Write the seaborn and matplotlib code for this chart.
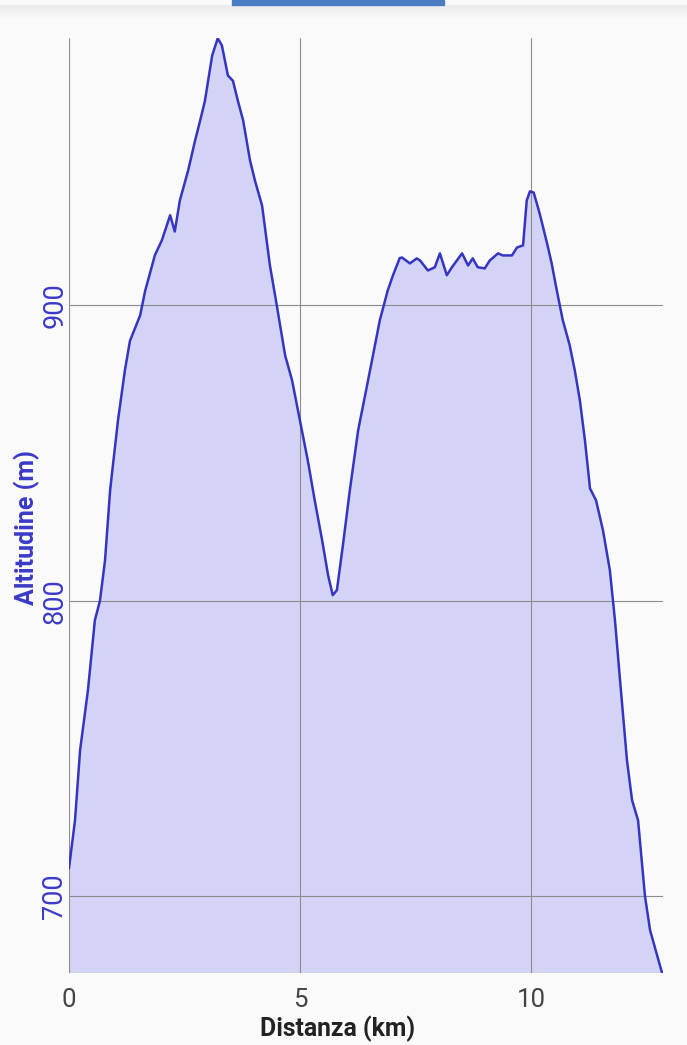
import numpy as np
import pandas as pd
import matplotlib
matplotlib.use("Agg")
import matplotlib.pyplot as plt
import seaborn as sns
from matplotlib.patches import Rectangle

# Profilo altimetrico: distanza (km) e altitudine (m)
distanza = [0.00, 0.13, 0.24, 0.41, 0.56, 0.67, 0.78, 0.89, 1.06, 1.21, 1.32, 1.54,
            1.65, 1.86, 2.01, 2.19, 2.29, 2.40, 2.58, 2.73, 2.84, 2.94, 3.10, 3.22,
            3.31, 3.44, 3.55, 3.66, 3.77, 3.92, 4.03, 4.18, 4.35, 4.48, 4.68, 4.83,
            5.00, 5.17, 5.32, 5.48, 5.61, 5.71, 5.80, 5.93, 6.08, 6.26, 6.41, 6.56,
            6.73, 6.90, 7.01, 7.16, 7.21, 7.38, 7.53, 7.60, 7.77, 7.92, 8.03, 8.18,
            8.29, 8.51, 8.64, 8.74, 8.85, 9.00, 9.11, 9.29, 9.39, 9.59, 9.70, 9.83,
            9.91, 9.98, 10.06, 10.19, 10.35, 10.45, 10.56, 10.69, 10.84, 10.95, 11.06,
            11.17, 11.28, 11.41, 11.56, 11.71, 11.82, 11.93, 12.08, 12.19, 12.32,
            12.47, 12.58, 12.84]
altitudine = [709.5, 725.7, 749.4, 769.7, 793.4, 800.0, 813.7, 837.4, 861.0, 878.0,
              888.0, 896.6, 905.0, 917.0, 922.0, 930.5, 925.0, 935.5, 945.7, 955.8,
              962.6, 969.0, 984.6, 990.4, 988.0, 977.8, 976.0, 969.0, 962.6, 949.0,
              942.0, 933.8, 913.5, 901.7, 883.0, 874.6, 861.0, 847.5, 834.0, 820.5,
              808.6, 801.9, 803.6, 818.8, 837.4, 857.7, 869.5, 881.4, 895.0, 905.0,
              910.0, 916.0, 916.2, 914.2, 915.9, 915.2, 911.8, 912.9, 917.6, 910.2,
              912.9, 917.6, 913.5, 915.9, 912.9, 912.5, 915.2, 917.6, 916.9, 916.9,
              919.6, 920.3, 935.5, 938.6, 938.2, 931.1, 921.0, 914.2, 905.1, 895.0,
              886.5, 878.0, 867.9, 854.3, 838.0, 834.0, 823.9, 810.3, 793.4, 773.1,
              746.0, 732.5, 725.7, 700.0, 688.5, 674.0]

x_ticks = [0, 5, 10]
y_ticks = [700, 800, 900]

df = pd.DataFrame({"distanza": distanza, "altitudine": altitudine})

sns.set_style("white")
plt.rcParams["font.family"] = ["Roboto", "DejaVu Sans"]

bg = "#fafafa"
line_col = "#3535c2"
fill_col = "#d3d3f6"
grid_col = "#8c8c8c"
blu_testo = "#3a3ac8"

fig = plt.figure(figsize=(6.87, 10.45), dpi=100, facecolor=bg)
ax = fig.add_axes([69 / 687, 1 - 973 / 1045, (663 - 69) / 687, (973 - 38) / 1045])
ax.set_facecolor(bg)

# area + linea
ax.fill_between(df["distanza"], df["altitudine"], 600, color=fill_col, lw=0, zorder=1)
sns.lineplot(data=df, x="distanza", y="altitudine", ax=ax, color=line_col,
             lw=1.8, zorder=3)

ax.set_xlim(0, 12.86)
ax.set_ylim(674, 990.5)
ax.set_xticks(x_ticks)
ax.set_yticks(y_ticks)
ax.grid(True, color=grid_col, lw=0.8, zorder=2)
ax.set_axisbelow(False)
for s in ax.spines.values():
    s.set_visible(False)
ax.axhline(674, color=grid_col, lw=0.8, zorder=2)

ax.tick_params(axis="x", length=10, width=0.8, color=grid_col, labelsize=18.5,
               labelcolor="#444444", pad=1)
ax.tick_params(axis="y", length=0, labelsize=19.5, labelcolor=blu_testo, pad=0.5)
for lab in ax.get_yticklabels():
    lab.set_rotation(90)
    lab.set_va("center")

ax.set_xlabel("Distanza (km)", fontsize=17.8, fontweight="bold", color="#222222")
ax.xaxis.set_label_coords(0.452, -0.046)
ax.xaxis.label.set_va("top")
ax.set_ylabel("Altitudine (m)", fontsize=18, fontweight="bold", color=blu_testo)
ax.yaxis.set_label_coords(-0.049, 0.477)

# barra superiore e ombra (schermata app)
fig.patches.append(Rectangle((232 / 687, 1 - 5 / 1045), (444 - 232) / 687, 5 / 1045,
                             transform=fig.transFigure, color="#4a7cc4", zorder=5))
for i in range(14):
    a = 0.06 * (1 - i / 14)
    fig.patches.append(Rectangle((0, 1 - (6 + i) / 1045), 1, 1 / 1045,
                                 transform=fig.transFigure, color="black",
                                 alpha=a, lw=0, zorder=4))

fig.savefig("out.png", dpi=100, facecolor=bg)
